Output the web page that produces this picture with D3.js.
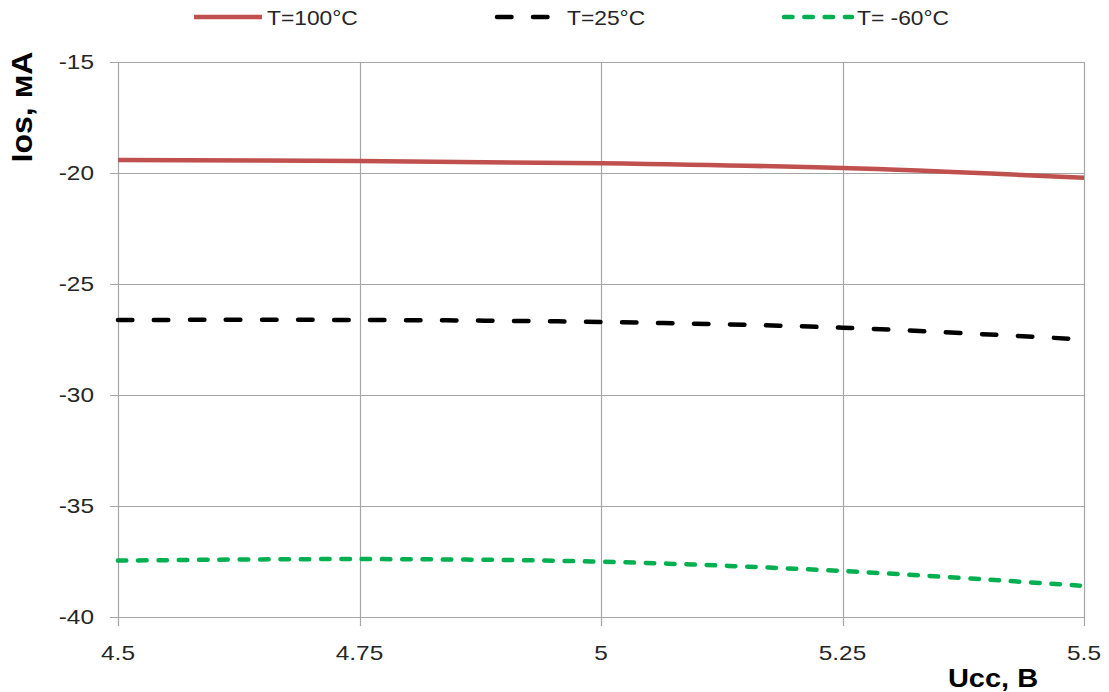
<!DOCTYPE html>
<html>
<head>
<meta charset="utf-8">
<script src="https://cdn.jsdelivr.net/npm/d3@7"></script>
<style>
  html, body { margin: 0; padding: 0; background: #fff; }
  svg { display: block; font-family: "Liberation Sans", Arial, sans-serif; }
</style>
</head>
<body>
<svg id="chart" width="1109" height="692"></svg>
<script>
// Supply voltage, V
const voltage = [4.5, 4.75, 5.0, 5.25, 5.5];
// Output short-circuit current, mA, per temperature
const iosT100 = [-19.42, -19.46, -19.56, -19.78, -20.21];
const iosT25 = [-26.62, -26.62, -26.71, -26.97, -27.50];
const iosTm60 = [-37.46, -37.39, -37.51, -37.93, -38.60];

const seriesNames = ["T=100°C", "T=25°C", "T= -60°C"];
const xTicks = [4.5, 4.75, 5.0, 5.25, 5.5];
const yTicks = [-15, -20, -25, -30, -35, -40];

const series = [
  { name: seriesNames[0], values: iosT100, color: "#c0504d", dash: null, width: 4.5 },
  { name: seriesNames[1], values: iosT25, color: "#000000", dash: "14.5,21.5", width: 4.5 },
  { name: seriesNames[2], values: iosTm60, color: "#00b050", dash: "8.5,11.8", width: 4.5 }
];

const svg = d3.select("#chart");
const plot = { left: 118, right: 1084, top: 62, bottom: 617 };
const gridColor = "#a6a6a6";
const textColor = "#262626";

const x = d3.scaleLinear().domain([4.5, 5.5]).range([plot.left, plot.right]);
const y = d3.scaleLinear().domain([-40, -15]).range([plot.bottom, plot.top]);

// Gridlines (with the outward tick stubs)
svg.append("g").selectAll("line").data(yTicks).join("line")
  .attr("x1", plot.left - 8).attr("x2", plot.right)
  .attr("y1", d => Math.round(y(d)) + 0.5).attr("y2", d => Math.round(y(d)) + 0.5)
  .attr("stroke", gridColor).attr("stroke-width", 1.2);
svg.append("g").selectAll("line").data(xTicks).join("line")
  .attr("x1", d => Math.round(x(d)) + 0.5).attr("x2", d => Math.round(x(d)) + 0.5)
  .attr("y1", plot.top).attr("y2", plot.bottom + 9)
  .attr("stroke", gridColor).attr("stroke-width", 1.2);

// Tick labels
svg.append("g").selectAll("text").data(xTicks).join("text")
  .attr("transform", d => `translate(${x(d)},660) scale(1.22,1)`)
  .attr("text-anchor", "middle")
  .attr("font-size", 20).attr("fill", textColor)
  .text(d => String(d));
svg.append("g").selectAll("text").data(yTicks).join("text")
  .attr("transform", d => `translate(94,${y(d)}) scale(1.22,1)`)
  .attr("text-anchor", "end").attr("dy", "0.36em")
  .attr("font-size", 20).attr("fill", textColor)
  .text(d => d);

// Axis titles
svg.append("text")
  .attr("transform", "translate(993,687) scale(1.16,1)")
  .attr("text-anchor", "middle")
  .attr("font-size", 25).attr("font-weight", "bold").attr("fill", "#000")
  .text("Ucc, B");
svg.append("text")
  .attr("transform", "translate(32,107) rotate(-90) scale(1.07,1)")
  .attr("text-anchor", "middle")
  .attr("font-size", 30).attr("font-weight", "bold").attr("fill", "#000")
  .text("Ios, мА");

// Series lines
const line = d3.line()
  .x((d, i) => x(voltage[i]))
  .y(d => y(d))
  .curve(d3.curveCatmullRom.alpha(0.5));

svg.append("g").selectAll("path").data(series).join("path")
  .attr("d", s => line(s.values))
  .attr("fill", "none")
  .attr("stroke", s => s.color)
  .attr("stroke-width", s => s.width)
  .attr("stroke-linecap", s => s.dash ? "round" : "butt")
  .attr("stroke-dasharray", s => s.dash);

// Legend
const legendItems = [
  { s: series[0], x1: 194, x2: 262, tx: 267 },
  { s: series[1], x1: 497, x2: 552, tx: 567 },
  { s: series[2], x1: 784, x2: 852, tx: 857 }
];
const lg = svg.append("g");
lg.selectAll("line").data(legendItems).join("line")
  .attr("x1", d => d.x1).attr("x2", d => d.x2)
  .attr("y1", 17).attr("y2", 17)
  .attr("stroke", d => d.s.color)
  .attr("stroke-width", 4.5)
  .attr("stroke-linecap", d => d.s.dash ? "round" : "butt")
  .attr("stroke-dasharray", d => d.s.dash);
lg.selectAll("text").data(legendItems).join("text")
  .attr("transform", d => `translate(${d.tx},25) scale(1.14,1)`)
  .attr("font-size", 20).attr("fill", textColor)
  .text(d => d.s.name);
</script>
</body>
</html>
